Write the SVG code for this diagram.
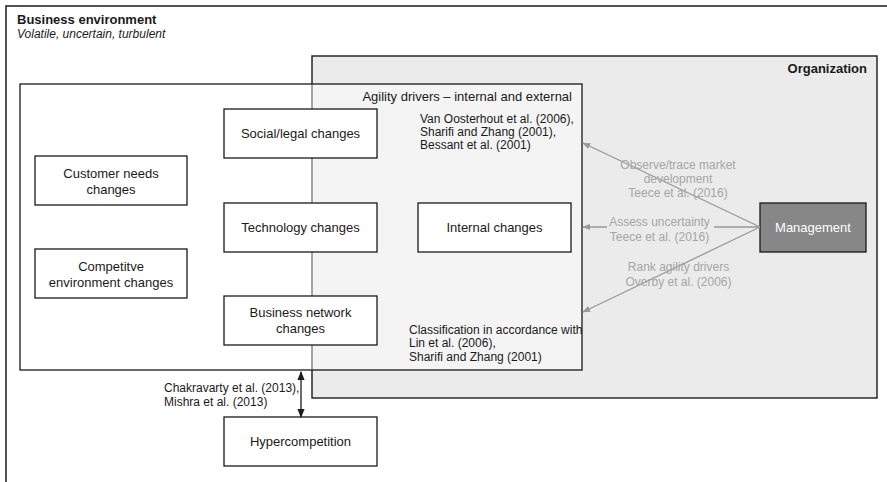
<svg xmlns="http://www.w3.org/2000/svg" width="887" height="482" viewBox="0 0 887 482">
<style>
text{font-family:"Liberation Sans",Arial,sans-serif;fill:#1a1a1a}
.lbl{font-size:13px;text-anchor:middle}
.cit{font-size:12px}
.gl{font-size:12px;fill:#a6a6a6;text-anchor:middle}
.box{fill:#fff;stroke:#1a1a1a;stroke-width:1.3}
.garrow{stroke:#999;stroke-width:1.3;fill:none;marker-end:url(#gh)}
</style>
<defs>
<marker id="gh" viewBox="0 0 10 10" refX="9" refY="5" markerWidth="8" markerHeight="8" markerUnits="userSpaceOnUse" orient="auto"><path d="M0,1 L10,5 L0,9 Z" fill="#999"/></marker>
<marker id="bh" viewBox="0 0 10 10" refX="9" refY="5" markerWidth="9" markerHeight="9" markerUnits="userSpaceOnUse" orient="auto-start-reverse"><path d="M0,1 L10,5 L0,9 Z" fill="#1a1a1a"/></marker>
</defs>
<rect width="887" height="482" fill="#fff"/>
<g id="business-environment">
<rect x="6" y="6" width="900" height="500" fill="none" stroke="#1a1a1a" stroke-width="1.5"/>
<text x="17" y="24" style="font-size:13px;font-weight:bold">Business environment</text>
<text x="17" y="38" style="font-size:12px;font-style:italic">Volatile, uncertain, turbulent</text>
</g>
<g id="organization">
<rect x="312" y="56" width="565" height="342" fill="#ebebeb" stroke="#1a1a1a" stroke-width="1.4"/>
<text x="867" y="73" style="font-size:13px;font-weight:bold;text-anchor:end">Organization</text>
</g>
<g id="agility-drivers">
<rect x="20" y="84" width="562" height="286" fill="#fff" fill-opacity="0.45" stroke="#1a1a1a" stroke-width="1.3"/>
<text x="572" y="101" style="font-size:13px;text-anchor:end">Agility drivers – internal and external</text>
<text class="cit" x="420" y="123">Van Oosterhout et al. (2006),</text>
<text class="cit" x="420" y="136">Sharifi and Zhang (2001),</text>
<text class="cit" x="420" y="149">Bessant et al. (2001)</text>
<text class="cit" x="409" y="334">Classification in accordance with</text>
<text class="cit" x="409" y="347">Lin et al. (2006),</text>
<text class="cit" x="409" y="361">Sharifi and Zhang (2001)</text>
</g>
<g id="social-legal">
<rect class="box" x="224" y="109" width="153" height="49"/>
<text class="lbl" x="300.5" y="138">Social/legal changes</text>
</g>
<g id="technology">
<rect class="box" x="224" y="203" width="153" height="49"/>
<text class="lbl" x="300.5" y="232">Technology changes</text>
</g>
<g id="business-network">
<rect class="box" x="224" y="296" width="153" height="49"/>
<text class="lbl" x="300.5" y="317">Business network</text>
<text class="lbl" x="300.5" y="333">changes</text>
</g>
<g id="customer-needs">
<rect class="box" x="35" y="156" width="152" height="49"/>
<text class="lbl" x="111" y="177.5">Customer needs</text>
<text class="lbl" x="111" y="193.5">changes</text>
</g>
<g id="competitive">
<rect class="box" x="35" y="249" width="152" height="49"/>
<text class="lbl" x="111" y="270.5">Competitve</text>
<text class="lbl" x="111" y="286.5">environment changes</text>
</g>
<g id="internal">
<rect class="box" x="418" y="203" width="153" height="49"/>
<text class="lbl" x="494.5" y="232">Internal changes</text>
</g>
<g id="management">
<rect x="760" y="203" width="106" height="49" fill="#878787" stroke="#1a1a1a" stroke-width="1.3"/>
<text class="lbl" x="813" y="232" style="fill:#fff">Management</text>
</g>
<g id="hypercompetition">
<rect class="box" x="224" y="417" width="153" height="49"/>
<text class="lbl" x="300.5" y="446">Hypercompetition</text>
</g>
<g id="connectors">
<line class="garrow" x1="760" y1="227" x2="583" y2="143"/>
<line class="garrow" x1="760" y1="227" x2="583" y2="227"/>
<line class="garrow" x1="760" y1="227" x2="583" y2="312"/>
<rect x="607" y="214" width="107" height="14" fill="#ebebeb"/>
<text class="gl" x="678" y="168.5">Observe/trace market</text>
<text class="gl" x="678" y="182.5">development</text>
<text class="gl" x="678" y="197">Teece et al. (2016)</text>
<text class="gl" x="659.5" y="225.5">Assess uncertainty</text>
<text class="gl" x="659.5" y="240.5">Teece et al. (2016)</text>
<text class="gl" x="678.5" y="271">Rank agility drivers</text>
<text class="gl" x="678.5" y="286">Overby et al. (2006)</text>
<line x1="301" y1="372" x2="301" y2="417" stroke="#1a1a1a" stroke-width="1.3" marker-start="url(#bh)" marker-end="url(#bh)"/>
<text class="cit" x="164" y="392">Chakravarty et al. (2013),</text>
<text class="cit" x="164" y="406">Mishra et al. (2013)</text>
</g>
</svg>
